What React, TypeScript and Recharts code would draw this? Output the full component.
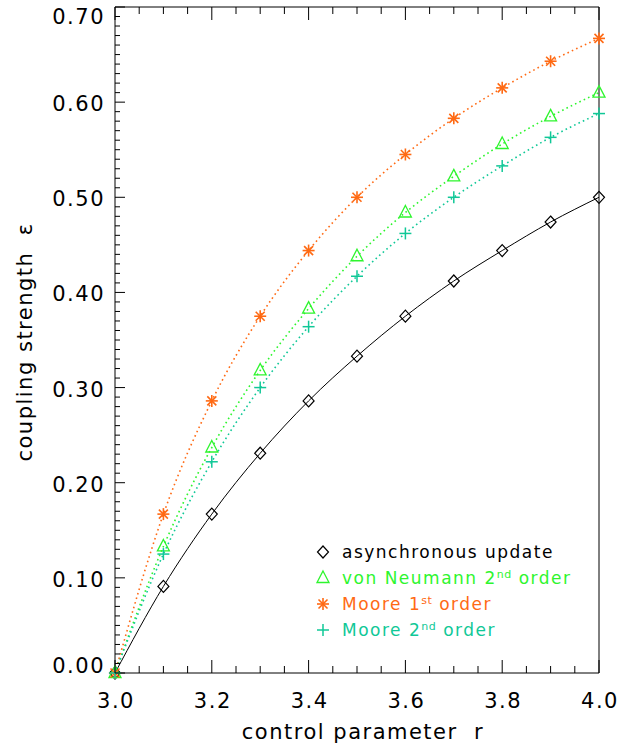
import { LineChart, Line, XAxis, YAxis, Legend, Label } from 'recharts';

// control parameter r
const R = [3.0, 3.1, 3.2, 3.3, 3.4, 3.5, 3.6, 3.7, 3.8, 3.9, 4.0];

// coupling strength per update scheme
const ASYNC = [0, 0.091, 0.167, 0.231, 0.286, 0.333, 0.375, 0.412, 0.444, 0.474, 0.5];
const VON_NEUMANN_2 = [0, 0.133, 0.237, 0.318, 0.383, 0.438, 0.484, 0.522, 0.556, 0.585, 0.61];
const MOORE_1 = [0, 0.167, 0.286, 0.375, 0.444, 0.5, 0.545, 0.583, 0.615, 0.643, 0.667];
const MOORE_2 = [0, 0.125, 0.222, 0.3, 0.364, 0.417, 0.462, 0.5, 0.533, 0.563, 0.588];

const X_TICKS = [
  3.0, 3.05, 3.1, 3.15, 3.2, 3.25, 3.3, 3.35, 3.4, 3.45, 3.5,
  3.55, 3.6, 3.65, 3.7, 3.75, 3.8, 3.85, 3.9, 3.95, 4.0,
];
const Y_TICKS = Array.from({ length: 71 }, (_, i) => i / 100);

const FONT = '"DejaVu Sans", sans-serif';

type Shape = 'diamond' | 'triangle' | 'asterisk' | 'plus';

const SERIES = [
  { key: 'async', name: 'asynchronous update', sup: '', tail: '', color: '#000000', shape: 'diamond' as Shape, dashed: false },
  { key: 'vn2', name: 'von Neumann 2', sup: 'nd', tail: ' order', color: '#2EF52E', shape: 'triangle' as Shape, dashed: true },
  { key: 'm1', name: 'Moore 1', sup: 'st', tail: ' order', color: '#FF6A14', shape: 'asterisk' as Shape, dashed: true },
  { key: 'm2', name: 'Moore 2', sup: 'nd', tail: ' order', color: '#10C897', shape: 'plus' as Shape, dashed: true },
];

const data = R.map((r, i) => ({
  r,
  async: ASYNC[i],
  vn2: VON_NEUMANN_2[i],
  m1: MOORE_1[i],
  m2: MOORE_2[i],
}));

function Marker({ cx, cy, shape, color }: { cx: number; cy: number; shape: Shape; color: string }) {
  if (shape === 'diamond') {
    return (
      <polygon
        points={`${cx},${cy - 6} ${cx + 5.5},${cy} ${cx},${cy + 6} ${cx - 5.5},${cy}`}
        fill="none" stroke={color} strokeWidth={1.2}
      />
    );
  }
  if (shape === 'triangle') {
    return (
      <polygon
        points={`${cx},${cy - 7} ${cx + 6},${cy + 4.5} ${cx - 6},${cy + 4.5}`}
        fill="none" stroke={color} strokeWidth={1.3}
      />
    );
  }
  if (shape === 'plus') {
    return (
      <g stroke={color} strokeWidth={1.5}>
        <line x1={cx - 6} y1={cy} x2={cx + 6} y2={cy} />
        <line x1={cx} y1={cy - 6} x2={cx} y2={cy + 6} />
      </g>
    );
  }
  return (
    <g stroke={color} strokeWidth={1.6}>
      <line x1={cx - 6} y1={cy} x2={cx + 6} y2={cy} />
      <line x1={cx} y1={cy - 6} x2={cx} y2={cy + 6} />
      <line x1={cx - 4.5} y1={cy - 4.5} x2={cx + 4.5} y2={cy + 4.5} />
      <line x1={cx - 4.5} y1={cy + 4.5} x2={cx + 4.5} y2={cy - 4.5} />
    </g>
  );
}

const isXMajor = (v: number) => Math.abs(v * 5 - Math.round(v * 5)) < 1e-6;
const isYMajor = (v: number) => Math.abs(v * 10 - Math.round(v * 10)) < 1e-6;

function BottomTick({ x, y, payload }: any) {
  const major = isXMajor(payload.value);
  return (
    <g>
      <line x1={x} y1={y} x2={x} y2={y - (major ? 13 : 7)} stroke="#000" />
      {major && (
        <text x={x + 1} y={y + 35} textAnchor="middle" fontFamily={FONT} fontSize={21} letterSpacing={1.5} fill="#000">
          {payload.value.toFixed(1)}
        </text>
      )}
    </g>
  );
}

function TopTick({ x, y, payload }: any) {
  const major = isXMajor(payload.value);
  return <line x1={x} y1={y} x2={x} y2={y + (major ? 13 : 7)} stroke="#000" />;
}

function LeftTick({ x, y, payload }: any) {
  const v = payload.value;
  const major = isYMajor(v);
  let dy = 9;
  if (v === 0) dy = 0;
  if (Math.abs(v - 0.7) < 1e-6) dy = 17;
  return (
    <g>
      <line x1={x} y1={y} x2={x + (major ? 10 : 5)} y2={y} stroke="#000" />
      {major && (
        <text x={x - 10} y={y + dy} textAnchor="end" fontFamily={FONT} fontSize={21} letterSpacing={1.5} fill="#000">
          {v.toFixed(2)}
        </text>
      )}
    </g>
  );
}

function RightTick({ x, y, payload }: any) {
  const major = isYMajor(payload.value);
  return <line x1={x} y1={y} x2={x - (major ? 10 : 5)} y2={y} stroke="#000" />;
}

function renderLegend() {
  return (
    <div style={{ fontFamily: FONT, fontSize: 17, letterSpacing: 1.5 }}>
      {SERIES.map((s) => (
        <div key={s.key} style={{ display: 'flex', alignItems: 'center', height: 26, color: s.color }}>
          <svg width={14} height={16} style={{ marginRight: 12, overflow: 'visible' }}>
            <Marker cx={7} cy={8} shape={s.shape} color={s.color} />
          </svg>
          <span style={{ whiteSpace: 'nowrap' }}>
            {s.name}
            {s.sup && <sup style={{ fontSize: 11, letterSpacing: 0.5, verticalAlign: 6 }}>{s.sup}</sup>}
            {s.tail}
          </span>
        </div>
      ))}
    </div>
  );
}

export default function App() {
  return (
    <div style={{ position: 'absolute', left: 0, top: 0, background: '#fff' }}>
      <LineChart width={619} height={745} data={data} margin={{ top: 0, right: 0, bottom: 0, left: 0 }}>
        <XAxis
          dataKey="r" type="number" domain={[3, 4]} ticks={X_TICKS} interval={0}
          height={72} tickSize={0} tickMargin={0} tick={<BottomTick />}
          axisLine={{ stroke: '#000' }}
        >
          <Label
            content={({ viewBox }: any) => (
              <text x={viewBox.x + viewBox.width / 2 + 6} y={viewBox.y + 66} textAnchor="middle"
                fontFamily={FONT} fontSize={21} letterSpacing={1.5} fill="#000">
                {'control parameter\u00a0\u00a0r'}
              </text>
            )}
          />
        </XAxis>
        <XAxis
          xAxisId="top" orientation="top" dataKey="r" type="number" domain={[3, 4]} ticks={X_TICKS}
          interval={0} height={7} tickSize={0} tickMargin={0} tick={<TopTick />}
          axisLine={{ stroke: '#000' }}
        />
        <YAxis
          type="number" domain={[0, 0.7]} ticks={Y_TICKS} interval={0} width={115}
          tickSize={0} tickMargin={0} tick={<LeftTick />} axisLine={{ stroke: '#000' }}
        >
          <Label
            content={({ viewBox }: any) => {
              const cx = 32;
              const cy = viewBox.y + viewBox.height / 2 + 2;
              return (
                <text x={cx} y={cy} transform={`rotate(-90 ${cx} ${cy})`} textAnchor="middle"
                  fontFamily={FONT} fontSize={21} letterSpacing={1.5} fill="#000">
                  {'coupling strength\u00a0\u00a0ε'}
                </text>
              );
            }}
          />
        </YAxis>
        <YAxis
          yAxisId="right" orientation="right" type="number" domain={[0, 0.7]} ticks={Y_TICKS}
          interval={0} width={20} tickSize={0} tickMargin={0} tick={<RightTick />}
          axisLine={{ stroke: '#000' }}
        />
        <Legend
          layout="horizontal" align="center" verticalAlign="middle" content={renderLegend}
          wrapperStyle={{ position: 'absolute', left: 316, top: 539, width: 290, height: 104 }}
        />
        {SERIES.map((s) => (
          <Line
            key={s.key}
            dataKey={s.key}
            type="monotone"
            stroke={s.color}
            strokeWidth={s.dashed ? 1.6 : 1}
            strokeDasharray={s.dashed ? '1.6 3.2' : undefined}
            isAnimationActive={false}
            activeDot={false}
            dot={(p: any) => (
              <Marker key={`${s.key}-${p.index}`} cx={p.cx} cy={p.cy} shape={s.shape} color={s.color} />
            )}
          />
        ))}
      </LineChart>
    </div>
  );
}
